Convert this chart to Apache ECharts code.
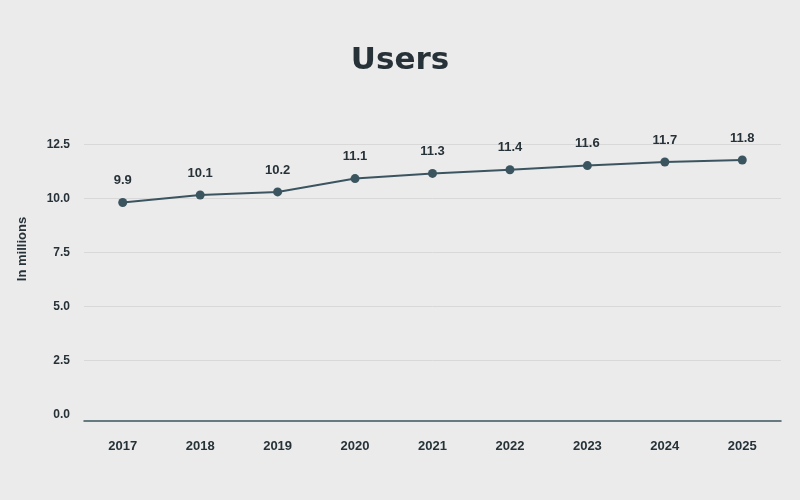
<!DOCTYPE html>
<html>
<head>
<meta charset="utf-8">
<script src="https://cdn.jsdelivr.net/npm/echarts@6/dist/echarts.min.js"></script>
<style>
html,body{margin:0;padding:0;background:#ebebeb;}
#c{width:800px;height:500px;}
</style>
</head>
<body>
<div id="c"></div>
<script>
const categories = ['2017','2018','2019','2020','2021','2022','2023','2024','2025'];
const values = [9.82, 10.17, 10.31, 10.93, 11.17, 11.34, 11.53, 11.70, 11.79];
const valueLabels = ['9.9','10.1','10.2','11.1','11.3','11.4','11.6','11.7','11.8'];
const yTicks = [0, 2.5, 5, 7.5, 10, 12.5];
const titleText = 'Users';
const yAxisTitle = 'In millions';

const dark = '#263238';
const lineColor = '#3b5560';
const gridColors = yTicks.map((t, i) => i === 0 ? 'rgba(0,0,0,0)' : '#d8d8d8');
const chart = echarts.init(document.getElementById('c'), null, {renderer:'canvas'});
chart.setOption({
  backgroundColor: '#ebebeb',
  animation: false,
  title: {
    text: titleText,
    left: 'center',
    top: 40,
    textStyle: {fontFamily: 'DejaVu Sans', fontWeight: 'bold', fontSize: 31, color: dark}
  },
  graphic: [{
    type: 'text',
    x: 22, y: 249,
    rotation: Math.PI / 2,
    style: {text: yAxisTitle, fill: dark, font: 'bold 13px "Liberation Sans"', textAlign: 'center', textVerticalAlign: 'middle'}
  }],
  grid: {left: 84, right: 19, top: 144.7, bottom: 85.7, containLabel: false},
  xAxis: {
    type: 'category',
    data: categories,
    boundaryGap: true,
    offset: 6,
    axisLine: {show: true, onZero: false, lineStyle: {color: lineColor, width: 1.5}},
    axisTick: {show: false},
    axisLabel: {color: dark, fontFamily: 'Liberation Sans', fontWeight: 'bold', fontSize: 13, margin: 20}
  },
  yAxis: {
    type: 'value',
    min: yTicks[0],
    max: yTicks[yTicks.length - 1],
    interval: yTicks[1] - yTicks[0],
    axisLine: {show: false},
    axisTick: {show: false},
    axisLabel: {color: dark, fontFamily: 'Liberation Sans', fontWeight: 'bold', fontSize: 12, margin: 14,
      formatter: v => v.toFixed(1)},
    splitLine: {lineStyle: {color: gridColors, width: 1}}
  },
  series: [{
    type: 'line',
    data: values,
    symbol: 'circle',
    symbolSize: 9,
    lineStyle: {color: lineColor, width: 2},
    itemStyle: {color: lineColor},
    label: {
      show: true,
      position: 'top',
      distance: 11,
      color: dark,
      fontFamily: 'Liberation Sans',
      fontWeight: 'bold',
      fontSize: 13,
      formatter: p => valueLabels[p.dataIndex]
    }
  }]
});
</script>
</body>
</html>
